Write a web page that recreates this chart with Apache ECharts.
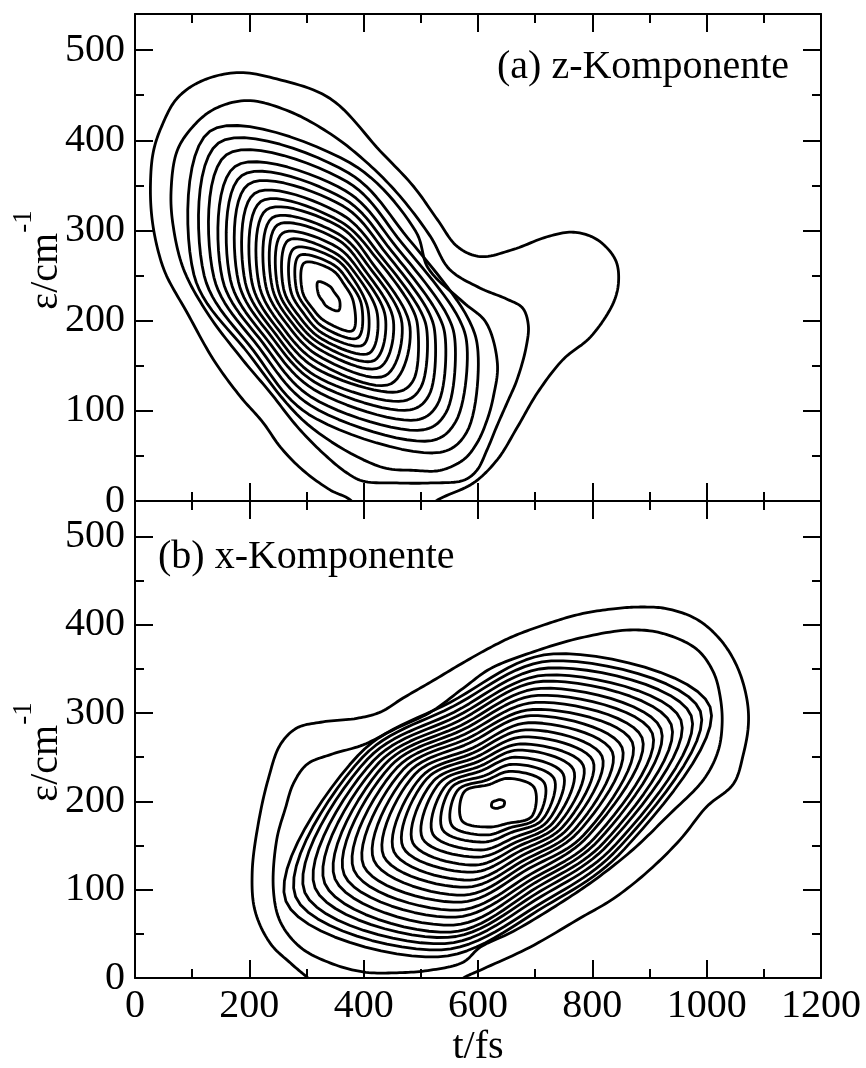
<!DOCTYPE html>
<html>
<head>
<meta charset="utf-8">
<script src="https://cdn.jsdelivr.net/npm/echarts@6.0.0/dist/echarts.min.js"></script>
<style>
  html, body { margin: 0; padding: 0; background: #fff; }
  #chart { width: 866px; height: 1068px; }
</style>
</head>
<body>
<div id="chart"></div>
<script>
// Axis ticks (t in fs, epsilon in cm^-1)
const tMajor = [0, 200, 400, 600, 800, 1000, 1200];
const tMinor = [100, 300, 500, 700, 900, 1100];
const eMajor = [0, 100, 200, 300, 400, 500];
const eMinor = [50, 150, 250, 350, 450];

// (a) z-Komponente: contour lines, outermost first, as [t, epsilon] points
const zOuter = [[178,475],[248,468],[342,446],[429,388],[487,349],[529,312],[564,282],[604,271],[662,279],[721,293],[767,298],[808,290],[840,268],[846,245],[837,220],[797,182],[749,157],[704,120],[669,82],[634,46],[592,20],[529,1],[470,-25],[410,-25],[377,1],[342,12],[294,34],[254,60],[224,87],[184,116],[137,157],[91,209],[55,250],[41,276],[30,312],[27,349],[32,387],[47,416],[73,446],[114,465]];
const zSecond = [[196,444],[270,432],[342,407],[399,379],[458,342],[516,294],[550,257],[604,236],[650,224],[678,214],[688,195],[684,170],[668,134],[651,109],[633,83],[616,57],[598,34],[575,23],[517,20],[458,20],[399,22],[371,31],[329,53],[283,83],[237,120],[184,160],[126,209],[85,257],[67,304],[63,342],[73,387],[97,412],[137,434]];
const zThird = [[614,198],[634,152],[627,116],[616,90],[598,64],[575,46],[534,34],[487,34],[429,38],[302,85],[199,163],[103,251],[131,410],[376,375],[491,299],[513,258],[575,220]];
const zInner = [
  [[583,202],[600,165],[580,76],[534,54],[304,96],[207,167],[121,250],[146,397],[373,364],[478,291]],
  [[566,203],[581,170],[561,88],[519,67],[307,106],[216,171],[138,248],[160,384],[371,354],[467,286]],
  [[547,205],[560,175],[544,98],[505,79],[309,115],[224,175],[153,246],[175,371],[368,344],[458,281]],
  [[530,207],[543,179],[529,107],[493,90],[312,124],[232,178],[167,245],[187,361],[366,335],[449,277]],
  [[514,209],[525,183],[514,117],[481,101],[314,132],[239,182],[181,243],[198,351],[364,327],[440,274]],
  [[500,210],[511,186],[500,126],[470,111],[315,139],[246,185],[193,242],[209,341],[361,318],[432,270]],
  [[486,212],[495,190],[487,134],[459,121],[317,147],[253,188],[205,241],[220,332],[359,310],[425,267]],
  [[481,193],[448,130],[319,154],[260,191],[217,240],[230,323],[358,304],[416,263]],
  [[467,197],[438,139],[321,161],[267,195],[229,238],[240,314],[356,296],[409,260]],
  [[452,200],[428,148],[323,168],[274,198],[240,237],[249,306],[354,290],[402,256]],
  [[438,204],[419,156],[325,174],[281,201],[250,236],[258,297],[352,282],[395,253]],
  [[424,207],[410,164],[326,180],[288,204],[260,235],[268,289],[350,275],[388,250]],
  [[408,211],[399,173],[328,186],[295,208],[272,234],[278,280],[349,269],[381,247]],
  [[396,218],[390,181],[329,193],[303,211],[283,233],[287,272],[347,262],[374,243]],
  [[382,221],[381,189],[331,200],[310,214],[293,232],[296,264],[345,256],[366,240]],
  [[358,222],[348,232],[341,238],[320,243],[321,229],[328,222],[335,216],[356,211]]
];

// (b) x-Komponente: contour lines, outermost first
const xOuter = [[301,1],[272,17],[237,39],[210,76],[205,120],[216,176],[233,225],[254,264],[283,283],[329,290],[388,294],[429,301],[469,317],[517,335],[574,357],[621,374],[662,387],[721,401],[779,412],[837,418],[884,420],[931,418],[983,406],[1024,383],[1053,353],[1070,317],[1073,287],[1064,253],[1047,220],[1000,194],[954,157],[896,120],[837,90],[779,68],[691,35],[604,9],[574,0],[530,-20],[420,-28],[330,-15]];
const xSecond = [[242,101],[248,157],[263,192],[277,220],[301,242],[342,253],[399,264],[458,283],[517,301],[574,328],[621,350],[691,368],[779,385],[866,394],[924,390],[983,372],[1012,346],[1024,317],[1027,287],[1020,257],[995,225],[931,183],[872,146],[808,113],[749,87],[662,53],[604,35],[574,18],[517,9],[458,6],[399,7],[342,17],[289,35],[254,64]];
const xInner = [
  [[856,146],[1006,307],[732,367],[551,312],[390,252],[264,87],[530,24],[719,82]],
  [[847,148],[989,302],[728,359],[555,307],[398,250],[281,92],[536,32],[716,87]],
  [[839,150],[973,297],[723,351],[558,301],[407,248],[297,97],[542,39],[712,93]],
  [[829,152],[955,292],[719,343],[562,296],[417,246],[315,102],[547,46],[708,98]],
  [[821,154],[938,287],[714,336],[566,291],[427,244],[332,107],[552,52],[704,103]],
  [[811,156],[920,282],[710,328],[570,286],[437,242],[350,112],[557,60],[700,108]],
  [[803,158],[905,277],[705,320],[573,281],[447,240],[366,117],[561,69],[697,113]],
  [[793,161],[887,272],[701,312],[577,276],[458,238],[383,122],[566,77],[693,118]],
  [[785,162],[870,267],[696,304],[581,271],[469,236],[400,127],[571,86],[689,124]],
  [[775,165],[852,261],[692,297],[585,266],[479,233],[418,133],[576,94],[685,129]],
  [[767,167],[835,256],[688,289],[589,260],[490,231],[435,138],[581,103],[682,134]],
  [[757,169],[817,251],[683,281],[592,255],[501,228],[453,143],[586,111],[678,139]],
  [[748,171],[801,246],[679,273],[596,250],[511,226],[469,148],[591,120],[674,144]],
  [[739,173],[784,241],[674,265],[600,245],[522,223],[486,153],[596,128],[670,149]],
  [[730,175],[767,236],[670,258],[604,240],[533,221],[503,158],[601,137],[667,154]],
  [[721,177],[749,231],[665,250],[607,235],[544,218],[521,163],[605,145],[663,159]],
  [[712,179],[733,226],[661,242],[611,229],[554,216],[538,168],[610,154],[659,165]],
  [[703,181],[716,221],[656,234],[615,224],[565,213],[554,173],[615,162],[655,170]],
  [[694,183],[698,216],[652,226],[619,219],[576,211],[572,178],[620,171],[651,175]],
  [[645,195],[646,200],[638,202],[632,201],[625,199],[624,194],[632,192],[638,193]]
];

const zContours = [zOuter, zSecond, zThird].concat(zInner);
const xContours = [xOuter, xSecond].concat(xInner);

const FONT = '"Liberation Serif", "Times New Roman", Times, serif';
const BLACK = '#000';
const plainNumber = function (v) { return String(v); };

// Closed centripetal Catmull-Rom curve through the projected contour points
function closedSpline(pts, steps) {
  const n = pts.length;
  const out = [];
  const knot = function (a, b) {
    return Math.max(Math.sqrt(Math.hypot(b[0] - a[0], b[1] - a[1])), 1e-4);
  };
  for (let i = 0; i < n; i++) {
    const p0 = pts[(i - 1 + n) % n], p1 = pts[i], p2 = pts[(i + 1) % n], p3 = pts[(i + 2) % n];
    const t0 = 0, t1 = knot(p0, p1), t2 = t1 + knot(p1, p2), t3 = t2 + knot(p2, p3);
    for (let s = 0; s < steps; s++) {
      const t = t1 + (t2 - t1) * s / steps;
      const mix = function (a, b, ta, tb) {
        const wa = (tb - t) / (tb - ta), wb = (t - ta) / (tb - ta);
        return [wa * a[0] + wb * b[0], wa * a[1] + wb * b[1]];
      };
      const A1 = mix(p0, p1, t0, t1), A2 = mix(p1, p2, t1, t2), A3 = mix(p2, p3, t2, t3);
      const B1 = mix(A1, A2, t0, t2), B2 = mix(A2, A3, t1, t3);
      out.push(mix(B1, B2, t1, t2));
    }
  }
  return out;
}

function tAxis(grid, position, major, showLabels, name) {
  return {
    type: 'value', gridIndex: grid, position: position,
    min: 0, max: 1200, interval: major ? 200 : 100,
    axisLine: { show: major, onZero: false, lineStyle: { color: BLACK, width: 2 } },
    axisTick: { show: true, inside: true, length: major ? 18 : 9,
      customValues: major ? tMajor : tMinor, lineStyle: { color: BLACK, width: 2 } },
    axisLabel: { show: showLabels, customValues: tMajor, formatter: plainNumber, margin: 8,
      color: BLACK, fontFamily: FONT, fontSize: 40 },
    splitLine: { show: false },
    name: name || '', nameLocation: 'middle', nameGap: 48,
    nameTextStyle: { color: BLACK, fontFamily: FONT, fontSize: 40 }
  };
}

function eAxis(grid, position, major, showLabels) {
  return {
    type: 'value', gridIndex: grid, position: position,
    min: 0, max: 540, interval: major ? 100 : 50,
    axisLine: { show: major, onZero: false, lineStyle: { color: BLACK, width: 2 } },
    axisTick: { show: true, inside: true, length: major ? 18 : 9,
      customValues: major ? eMajor : eMinor, lineStyle: { color: BLACK, width: 2 } },
    axisLabel: { show: showLabels, customValues: eMajor, formatter: plainNumber, margin: 10,
      color: BLACK, fontFamily: FONT, fontSize: 40 },
    splitLine: { show: false }
  };
}

function contourSeries(contours, axisIndex) {
  return {
    type: 'custom',
    xAxisIndex: axisIndex,
    yAxisIndex: axisIndex,
    clip: true,
    silent: true,
    data: contours.map(function (ring) { return ring[0]; }),
    renderItem: function (params, api) {
      const ring = contours[params.dataIndex].map(function (p) { return api.coord(p); });
      return {
        type: 'polygon',
        shape: { points: closedSpline(ring, 12) },
        style: { fill: 'none', stroke: BLACK, lineWidth: 2.8, lineJoin: 'round' }
      };
    }
  };
}

// Rotated axis title with a raised "-1" exponent
function yName(cx, cy) {
  return {
    type: 'text', x: cx, y: cy, rotation: Math.PI / 2, silent: true,
    style: {
      text: '{b|ε/cm}{s|-1}',
      align: 'center', verticalAlign: 'middle',
      rich: {
        b: { fontFamily: FONT, fontSize: 40, lineHeight: 56, verticalAlign: 'bottom', fill: BLACK },
        s: { fontFamily: FONT, fontSize: 27, lineHeight: 27, verticalAlign: 'top', fill: BLACK }
      }
    }
  };
}

const chart = echarts.init(document.getElementById('chart'), null, { renderer: 'canvas' });
chart.setOption({
  animation: false,
  backgroundColor: '#fff',
  grid: [
    { left: 135, top: 14, width: 686, height: 487 },
    { left: 135, top: 501, width: 686, height: 487 }
  ],
  xAxis: [
    tAxis(0, 'bottom', true, false), tAxis(0, 'bottom', false, false),
    tAxis(0, 'top', true, false), tAxis(0, 'top', false, false),
    tAxis(1, 'bottom', true, true, 't/fs'), tAxis(1, 'bottom', false, false),
    tAxis(1, 'top', true, false), tAxis(1, 'top', false, false)
  ],
  yAxis: [
    eAxis(0, 'left', true, true), eAxis(0, 'left', false, false),
    eAxis(0, 'right', true, false), eAxis(0, 'right', false, false),
    eAxis(1, 'left', true, true), eAxis(1, 'left', false, false),
    eAxis(1, 'right', true, false), eAxis(1, 'right', false, false)
  ],
  series: [
    contourSeries(zContours, 0),
    contourSeries(xContours, 4)
  ],
  graphic: [
    { type: 'text', x: 497, y: 67, silent: true,
      style: { text: '(a) z-Komponente', fontFamily: FONT, fontSize: 40, fill: BLACK,
        align: 'left', verticalAlign: 'middle' } },
    { type: 'text', x: 158, y: 557, silent: true,
      style: { text: '(b) x-Komponente', fontFamily: FONT, fontSize: 40, fill: BLACK,
        align: 'left', verticalAlign: 'middle' } },
    yName(38, 260),
    yName(38, 752)
  ]
});
</script>
</body>
</html>
